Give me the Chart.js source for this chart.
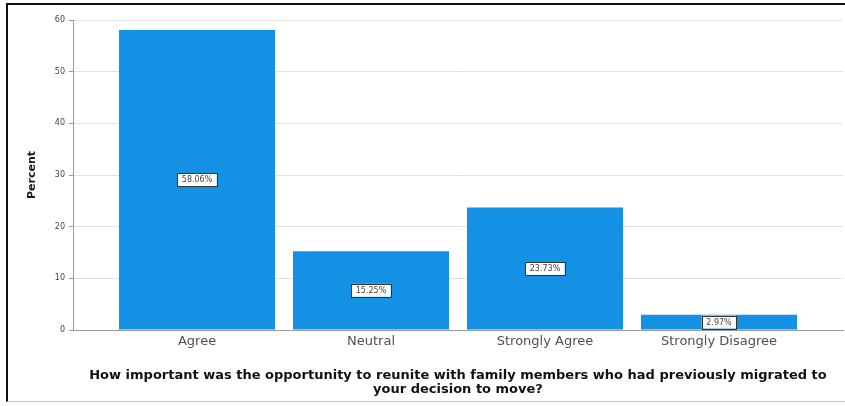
<!DOCTYPE html>
<html lang="en">
<head>
  <meta charset="UTF-8">
  <title>Reunite with family members</title>
  <script src="https://cdn.jsdelivr.net/npm/chart.js"></script>
  <style>
    body {
      margin: 0;
      background: #fff;
    }
    #wrap {
      position: relative;
      width: 845px;
      height: 406px;
      overflow: hidden;
    }
    #frame {
      position: absolute;
      left: 6px;
      top: 3px;
      right: -4px;
      bottom: 4px;
      border-left: 2px solid #111;
      border-top: 2px solid #111;
      border-bottom: 1px solid #c8c8c8;
    }
    #chart {
      position: absolute;
      left: 0;
      top: 0;
    }
  </style>
</head>
<body>

  <div id="wrap">
    <div id="frame"></div>
    <canvas id="chart" width="845" height="406"></canvas>
  </div>

  <script>
    const categories = ['Agree', 'Neutral', 'Strongly Agree', 'Strongly Disagree'];
    const percents = [58.06, 15.25, 23.73, 2.97];
    const yTicks = [0, 10, 20, 30, 40, 50, 60];
    const xTitle = ['How important was the opportunity to reunite with family members who had previously migrated to',
                    'your decision to move?'];

    // white boxed percentage in the middle of each bar
    const barLabels = {
      id: 'barLabels',
      afterDatasetsDraw(chart) {
        const ctx = chart.ctx;
        const meta = chart.getDatasetMeta(0);
        ctx.save();
        ctx.font = '8px "DejaVu Sans"';
        ctx.textAlign = 'center';
        ctx.textBaseline = 'middle';
        meta.data.forEach((bar, i) => {
          const text = percents[i].toFixed(2) + '%';
          const w = ctx.measureText(text).width + 9;
          const h = 13;
          const cx = bar.x;
          const cy = (bar.y + bar.base) / 2;
          ctx.fillStyle = '#fff';
          ctx.fillRect(cx - w / 2, cy - h / 2, w, h);
          ctx.strokeStyle = '#333';
          ctx.lineWidth = 1;
          ctx.strokeRect(Math.round(cx - w / 2) + 0.5, Math.round(cy - h / 2) + 0.5, Math.round(w), h);
          ctx.fillStyle = '#4a3f35';
          ctx.fillText(text, cx, cy + 0.5);
        });
        ctx.restore();
      }
    };

    new Chart(document.getElementById('chart'), {
      type: 'bar',
      data: {
        datasets: [{
          label: 'Percent',
          data: percents.map((v, i) => ({ x: i, y: v })),
          backgroundColor: '#1490e4',
          borderWidth: 0,
          barPercentage: 0.897,
          categoryPercentage: 1
        }]
      },
      plugins: [barLabels],
      options: {
        responsive: false,
        animation: false,
        layout: {
          padding: { left: 0, right: 2, top: 20, bottom: 8 }
        },
        plugins: {
          legend: { display: false },
          tooltip: { enabled: false }
        },
        scales: {
          x: {
            type: 'linear',
            offset: false,
            min: -0.713,
            max: 3.713,
            afterBuildTicks: scale => {
              scale.ticks = categories.map((c, i) => ({ value: i }));
            },
            afterFit: scale => { scale.height = 68; },
            grid: { drawOnChartArea: false, drawTicks: false },
            border: { display: true, color: '#9a9a9a', width: 1 },
            ticks: {
              padding: 4,
              color: '#505050',
              font: { family: 'DejaVu Sans', size: 13 },
              callback: v => categories[v]
            },
            title: {
              display: true,
              text: xTitle,
              color: '#111',
              font: { family: 'DejaVu Sans', size: 13, weight: 'bold', lineHeight: '14px' },
              padding: { top: 0, bottom: 1 }
            }
          },
          y: {
            min: 0,
            max: 60,
            afterBuildTicks: scale => {
              scale.ticks = yTicks.map(v => ({ value: v }));
            },
            afterFit: scale => { scale.width = 73; },
            grid: { color: '#e2e2e2', tickLength: 4, tickColor: '#9a9a9a' },
            border: { display: true, color: '#9a9a9a', width: 1 },
            ticks: {
              padding: 4,
              color: '#444',
              font: { family: 'DejaVu Sans', size: 8 }
            },
            title: {
              display: true,
              text: 'Percent',
              color: '#1a1a1a',
              font: { family: 'DejaVu Sans', size: 11, weight: 'bold' },
              padding: { top: 26, bottom: 0 }
            }
          }
        }
      }
    });
  </script>

</body>
</html>
